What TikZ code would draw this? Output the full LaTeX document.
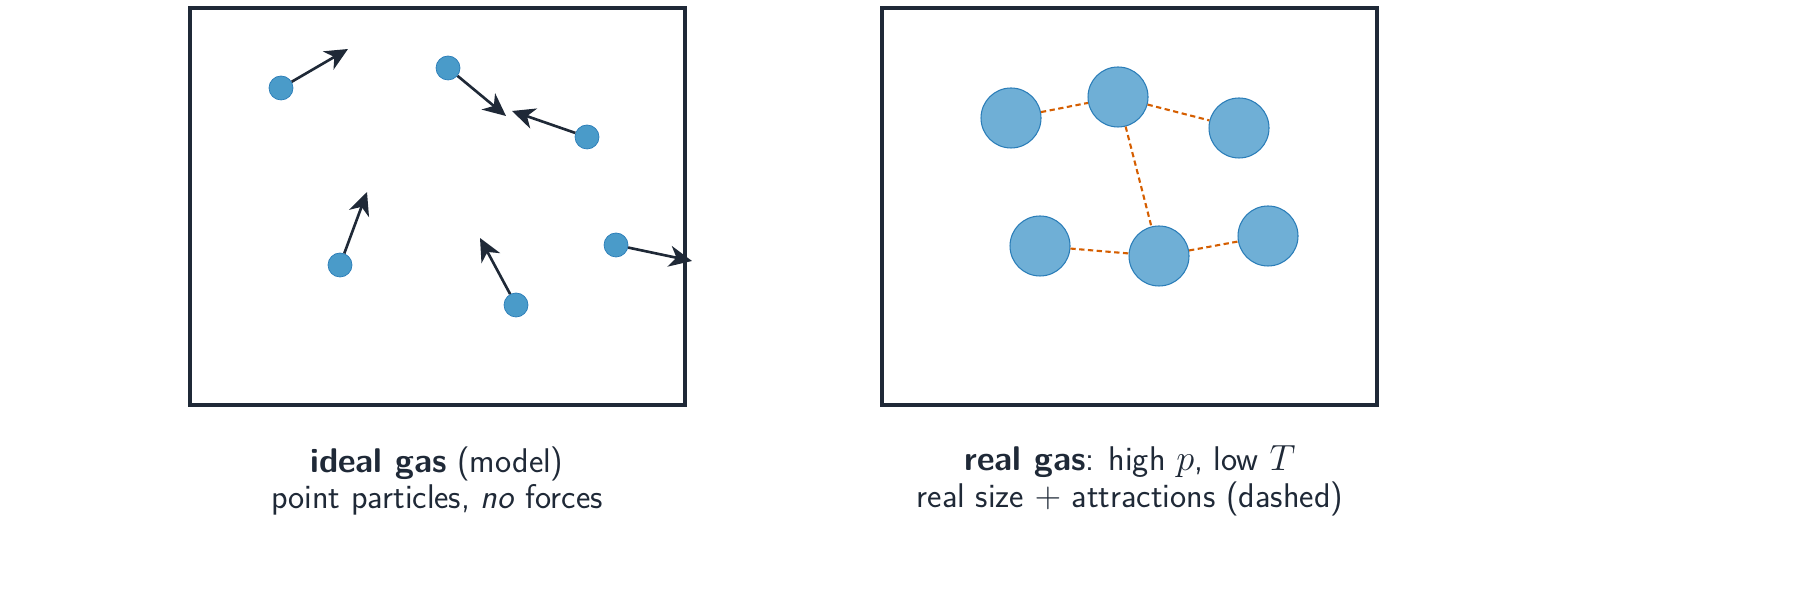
\documentclass[tikz,border=0pt]{standalone}
\usepackage{tikz}
\usetikzlibrary{arrows.meta}
\definecolor{ink}{HTML}{1F2937}
\definecolor{dotblue}{HTML}{4A9BC9}
\definecolor{bigblue}{HTML}{6FAFD6}
\definecolor{edgeblue}{HTML}{2A7DB8}
\definecolor{pull}{HTML}{D55E00}
\tikzset{
  box/.style={draw=ink, line width=2.2pt},
  point/.style={circle, fill=dotblue, draw=edgeblue, line width=0.4pt, minimum size=0.48cm, inner sep=0pt},
  atom/.style={circle, fill=bigblue, draw=edgeblue, line width=0.6pt, minimum size=1.2cm, inner sep=0pt},
  move/.style={draw=ink, line width=1.5pt, -{Stealth[length=13pt,width=12pt,inset=4pt]}},
  bond/.style={draw=pull, line width=1.2pt, dash pattern=on 3pt off 2pt},
  caption/.style={text=ink, align=center, font=\sffamily\fontsize{19.5}{21}\selectfont}
}
\begin{document}
\begin{tikzpicture}
  \useasboundingbox (0,0) rectangle (36,12.24);
  % containers
  \draw[box] (3.8,4.14) rectangle (13.7,12.08);
  \draw[box] (17.64,4.14) rectangle (27.54,12.08);
  % ideal gas: point particles
  \node[point] (p1) at (5.62,10.48) {};
  \node[point] (p2) at (8.96,10.88) {};
  \node[point] (p3) at (11.74,9.5) {};
  \node[point] (p4) at (6.8,6.94) {};
  \node[point] (p5) at (10.32,6.14) {};
  \node[point] (p6) at (12.32,7.34) {};
  \coordinate (v1) at (6.96,11.26);
  \coordinate (v2) at (10.12,9.92);
  \coordinate (v3) at (10.24,10.02);
  \coordinate (v4) at (7.34,8.4);
  \coordinate (v5) at (9.6,7.48);
  \coordinate (v6) at (13.84,7.02);
  \foreach \i in {1,...,6}
    \draw[move] (p\i) -- (v\i);
  % real gas: finite size + attractions
  \node[atom] (a) at (20.22,9.88) {};
  \node[atom] (b) at (22.36,10.3) {};
  \node[atom] (c) at (24.78,9.68) {};
  \node[atom] (d) at (20.8,7.32) {};
  \node[atom] (e) at (23.18,7.12) {};
  \node[atom] (f) at (25.36,7.52) {};
  \draw[bond] (a) -- (b);
  \draw[bond] (b) -- (c);
  \draw[bond] (b) -- (e);
  \draw[bond] (d) -- (e);
  \draw[bond] (e) -- (f);
  % captions
  \node[caption] (ideal) at (8.74,2.62) {\textbf{ideal gas} (model)\\point particles, \textit{no} forces};
  \node[caption] (real) at (22.6,2.62) {\textbf{real gas}: high $p$, low $T$\\real size $+$ attractions (dashed)};
\end{tikzpicture}
\end{document}
